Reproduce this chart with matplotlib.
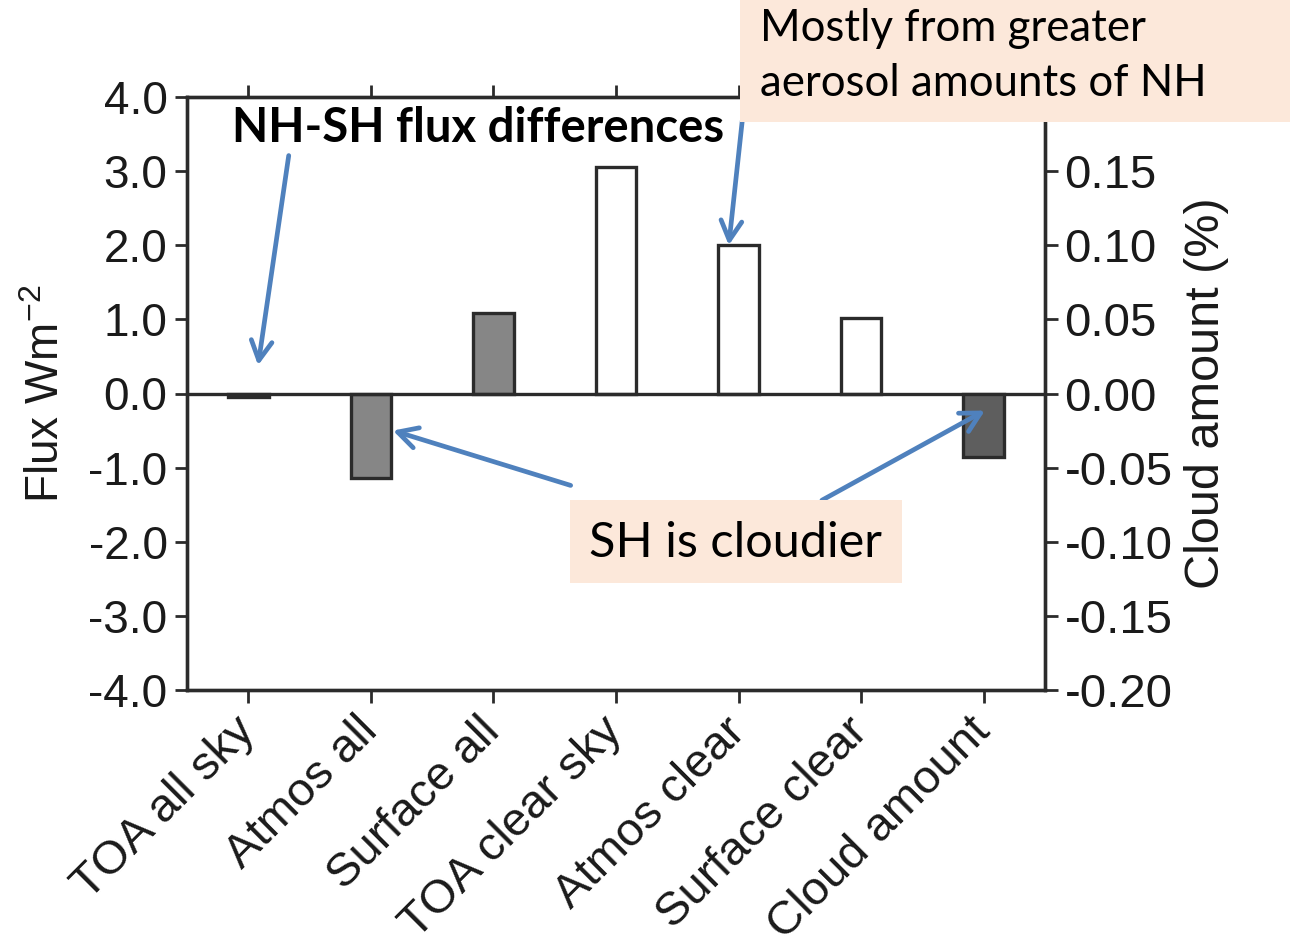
import matplotlib
matplotlib.use("Agg")
import matplotlib.pyplot as plt
import matplotlib.transforms as mtransforms
import numpy as np
from matplotlib.patches import Rectangle

# ---- data ----
categories = ["TOA all sky", "Atmos all", "Surface all", "TOA clear sky",
              "Atmos clear", "Surface clear", "Cloud amount"]
flux_values = [-0.05, -1.14, 1.09, 3.05, 2.01, 1.02]   # W m-2 (left axis)
cloud_value = -0.043                                   # % (right axis)
flux_colors = ["#2e2e2e", "#868686", "#868686", "#ffffff", "#ffffff", "#ffffff"]
cloud_color = "#5e5e5e"
left_ticks = [4.0, 3.0, 2.0, 1.0, 0.0, -1.0, -2.0, -3.0, -4.0]
right_ticks = [0.15, 0.10, 0.05, 0.00, -0.05, -0.10, -0.15, -0.20]

W, H = 1290, 948
fig = plt.figure(figsize=(W / 100, H / 100), dpi=100)
ax = fig.add_axes([187 / W, 1 - 690 / H, (1045 - 187) / W, (690 - 97) / H])
ax2 = ax.twinx()

axfont = "Liberation Sans"
annfont = "Lato"
edge = "#2b2b2b"
txtc = "#1a1a1a"
x = np.arange(len(categories))

ax.bar(x[:6], flux_values, width=0.33, color=flux_colors, edgecolor=edge,
       linewidth=2.4, zorder=3)
ax2.bar(x[6], cloud_value, width=0.33, color=cloud_color, edgecolor=edge,
        linewidth=2.4, zorder=3)
ax.axhline(0, color=edge, lw=2.4, zorder=4)

ax.set_xlim(-0.5, 6.5)
ax.set_ylim(-4, 4)
ax2.set_ylim(-0.2, 0.2)
ax.set_yticks(left_ticks)
ax.set_yticklabels([f"{v:.1f}" for v in left_ticks], fontfamily=axfont, fontsize=33)
ax2.set_yticks(right_ticks)
ax2.set_yticklabels([f"{v:.2f}" for v in right_ticks], fontfamily=axfont, fontsize=34)
ax.set_xticks(x)
ax.set_xticklabels(categories, rotation=45, ha="right", va="center",
                   rotation_mode="anchor", fontfamily=axfont, fontsize=34)
shift = mtransforms.ScaledTranslation(8 / 100, 0, fig.dpi_scale_trans)
for lab in ax.get_xticklabels():
    lab.set_transform(lab.get_transform() + shift)
ax.tick_params(axis="x", top=True, direction="out", length=9, width=2,
               color=edge, pad=16, labelcolor=txtc)
ax.tick_params(axis="y", direction="out", length=9, width=2, color=edge,
               pad=5, labelcolor=txtc)
ax2.tick_params(axis="y", direction="out", length=9, width=2, color=edge,
                pad=5, labelcolor=txtc)
for a in (ax, ax2):
    for s in a.spines.values():
        s.set_color(edge)
        s.set_linewidth(2.4)

ax.set_ylabel("Flux Wm$^{\\mathregular{-2}}$", fontfamily=axfont, fontsize=33,
              labelpad=14, color=txtc)
ax2.set_ylabel("Cloud amount (%)", fontfamily=axfont, fontsize=35, labelpad=8,
               color=txtc)

# ---- annotations ----
blue = "#4f81bd"
arrow = dict(arrowstyle="->,head_length=1.4,head_width=0.75", color=blue, lw=3.4,
             shrinkA=0, shrinkB=0)

fig.text(232 / W, 1 - 128 / H, "NH-SH flux differences", fontfamily=annfont,
         fontweight="bold", fontsize=34, ha="left", va="center", color="black")
ax2.annotate("", xy=(0.08, 0.38), xytext=(0.33, 3.21), xycoords=ax.transData,
             textcoords=ax.transData, arrowprops=arrow, zorder=6)

# "Mostly from ..." box
fig.patches.append(Rectangle((740 / W, 1 - 122 / H), (1290 - 740) / W, 122 / H,
                             transform=fig.transFigure, facecolor="#fce8da",
                             edgecolor="none", zorder=10))
fig.text(760 / W, 1 - 56 / H, "Mostly from greater\naerosol amounts of NH",
         fontfamily=annfont, fontsize=31.5, ha="left", va="center",
         linespacing=1.45, color="black", zorder=11)
ax2.annotate("", xy=(3.92, 2.0), xytext=(4.03, 3.68), xycoords=ax.transData,
             textcoords=ax.transData, arrowprops=arrow, zorder=6,
             annotation_clip=False)

# "SH is cloudier" box
fig.patches.append(Rectangle((570 / W, 1 - 583 / H), (902 - 570) / W, 83 / H,
                             transform=fig.transFigure, facecolor="#fce8da",
                             edgecolor="none", zorder=10))
fig.text(735 / W, 1 - 543 / H, "SH is cloudier", fontfamily=annfont, fontsize=35,
         ha="center", va="center", color="black", zorder=11)
ax2.annotate("", xy=(1.18, -0.50), xytext=(2.63, -1.24), xycoords=ax.transData,
             textcoords=ax.transData, arrowprops=arrow, zorder=6)
ax2.annotate("", xy=(6.01, -0.23), xytext=(4.68, -1.44), xycoords=ax.transData,
             textcoords=ax.transData, arrowprops=arrow, zorder=6)

fig.savefig("out.png", dpi=100)
